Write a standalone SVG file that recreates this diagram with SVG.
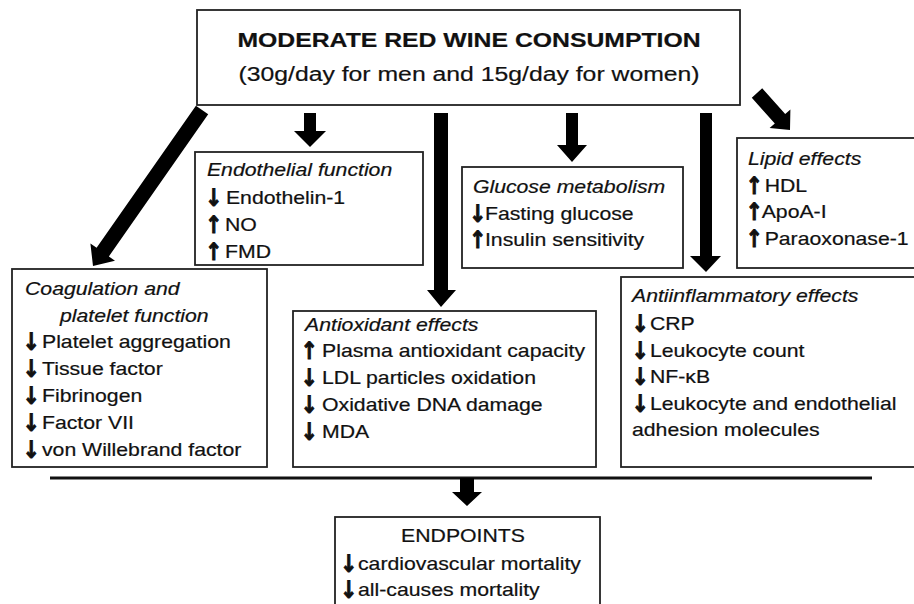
<svg xmlns="http://www.w3.org/2000/svg" width="914" height="604" viewBox="0 0 914 604">
<style>
.box{fill:#fff;stroke:#222;stroke-width:1.8}
.t{font-family:"Liberation Sans",Arial,sans-serif;font-size:18px;fill:#111;stroke:#111;stroke-width:0.2}
.i{font-style:italic}
.h{font-size:21px}
.b{font-weight:bold}
.ar{font-family:"DejaVu Sans",sans-serif;font-weight:bold;font-size:24px;fill:#111;stroke:#111;stroke-width:1;text-anchor:middle}
.c{fill:#000}
</style>
<rect width="914" height="604" fill="#fff"/>
<g id="connectors">
<polygon class="c" points="304,113 316,113 316,131 326,131 310,147 294,131 304,131"/>
<polygon class="c" points="566,113 578,113 578,145 587,145 572,162 557,145 566,145"/>
<polygon class="c" points="434,113 448,113 448,290 456,290 441,307 427,290 434,290"/>
<polygon class="c" points="700,113 712,113 712,256 721,256 706,272 690,256 700,256"/>
<polygon class="c" points="208.2,114.3 108.9,256.4 115,260.7 93,266 90.4,243.5 96.6,247.8 195.9,105.7"/>
<polygon class="c" points="762.2,88.3 785.2,114.1 790.4,109.5 790,130 769.6,128.1 774.8,123.5 751.8,97.7"/>
<line x1="50" y1="478" x2="872" y2="478" stroke="#111" stroke-width="3"/>
<polygon class="c" points="460,478 474,478 474,492 482,492 467,506 452,492 460,492"/>
</g>
<g id="main">
<rect class="box" x="197" y="10" width="543" height="95"/>
<g transform="scale(1.18 1)">
<text class="t h b" x="397.5" y="47" text-anchor="middle">MODERATE RED WINE CONSUMPTION</text>
<text class="t h" x="397.5" y="81" text-anchor="middle">(30g/day for men and 15g/day for women)</text>
</g>
</g>
<g id="endothelial">
<rect class="box" x="195" y="152" width="228" height="113"/>
<g transform="scale(1.18 1)">
<text class="t i" x="175.4" y="176">Endothelial function</text>
<text class="t" x="191.5" y="204">Endothelin-1</text>
<text class="t" x="190.7" y="231">NO</text>
<text class="t" x="190.7" y="258">FMD</text>
</g>
<g transform="scale(0.85 1)">
<text class="ar" x="251.2" y="206">↓</text>
<text class="ar" x="251.2" y="233">↑</text>
<text class="ar" x="251.2" y="260">↑</text>
</g>
</g>
<g id="glucose">
<rect class="box" x="462" y="167" width="221" height="101"/>
<g transform="scale(1.18 1)">
<text class="t i" x="400.8" y="193">Glucose metabolism</text>
<text class="t" x="411" y="220">Fasting glucose</text>
<text class="t" x="411" y="246">Insulin sensitivity</text>
</g>
<g transform="scale(0.85 1)">
<text class="ar" x="561.8" y="222">↓</text>
<text class="ar" x="561.8" y="248">↑</text>
</g>
</g>
<g id="lipid">
<rect class="box" x="737" y="138" width="185" height="130"/>
<g transform="scale(1.18 1)">
<text class="t i" x="633.9" y="165">Lipid effects</text>
<text class="t" x="648" y="192">HDL</text>
<text class="t" x="645.5" y="218">ApoA-I</text>
<text class="t" x="648" y="245">Paraoxonase-1</text>
</g>
<g transform="scale(0.85 1)">
<text class="ar" x="887.1" y="194">↑</text>
<text class="ar" x="887.1" y="220">↑</text>
<text class="ar" x="887.1" y="247">↑</text>
</g>
</g>
<g id="coagulation">
<rect class="box" x="12" y="269" width="255" height="198"/>
<g transform="scale(1.18 1)">
<text class="t i" x="21.2" y="295">Coagulation and</text>
<text class="t i" x="50.8" y="322">platelet function</text>
<text class="t" x="35.6" y="348">Platelet aggregation</text>
<text class="t" x="35.6" y="375">Tissue factor</text>
<text class="t" x="35.6" y="402">Fibrinogen</text>
<text class="t" x="35.6" y="429">Factor VII</text>
<text class="t" x="35.6" y="456">von Willebrand factor</text>
</g>
<g transform="scale(0.85 1)">
<text class="ar" x="36.5" y="350">↓</text>
<text class="ar" x="36.5" y="377">↓</text>
<text class="ar" x="36.5" y="404">↓</text>
<text class="ar" x="36.5" y="431">↓</text>
<text class="ar" x="36.5" y="458">↓</text>
</g>
</g>
<g id="antioxidant">
<rect class="box" x="293" y="311" width="303" height="156"/>
<g transform="scale(1.18 1)">
<text class="t i" x="258.5" y="331">Antioxidant effects</text>
<text class="t" x="272.9" y="357">Plasma antioxidant capacity</text>
<text class="t" x="272.9" y="384">LDL particles oxidation</text>
<text class="t" x="272.9" y="411">Oxidative DNA damage</text>
<text class="t" x="272.9" y="438">MDA</text>
</g>
<g transform="scale(0.85 1)">
<text class="ar" x="363.5" y="359">↑</text>
<text class="ar" x="363.5" y="386">↓</text>
<text class="ar" x="363.5" y="413">↓</text>
<text class="ar" x="363.5" y="440">↓</text>
</g>
</g>
<g id="antiinflammatory">
<rect class="box" x="621" y="277" width="301" height="190"/>
<g transform="scale(1.18 1)">
<text class="t i" x="535.6" y="302">Antiinflammatory effects</text>
<text class="t" x="550.8" y="330">CRP</text>
<text class="t" x="550.8" y="357">Leukocyte count</text>
<text class="t" x="550.8" y="383">NF-κB</text>
<text class="t" x="550.8" y="410">Leukocyte and endothelial</text>
<text class="t" x="535.6" y="436">adhesion molecules</text>
</g>
<g transform="scale(0.85 1)">
<text class="ar" x="752.9" y="332">↓</text>
<text class="ar" x="752.9" y="359">↓</text>
<text class="ar" x="752.9" y="385">↓</text>
<text class="ar" x="752.9" y="412">↓</text>
</g>
</g>
<g id="endpoints">
<rect class="box" x="335" y="517" width="265" height="100"/>
<g transform="scale(1.18 1)">
<text class="t" x="392.4" y="542" text-anchor="middle">ENDPOINTS</text>
<text class="t" x="303.4" y="570">cardiovascular mortality</text>
<text class="t" x="303.4" y="596">all-causes mortality</text>
</g>
<g transform="scale(0.85 1)">
<text class="ar" x="410" y="572">↓</text>
<text class="ar" x="410" y="598">↓</text>
</g>
</g>
</svg>
